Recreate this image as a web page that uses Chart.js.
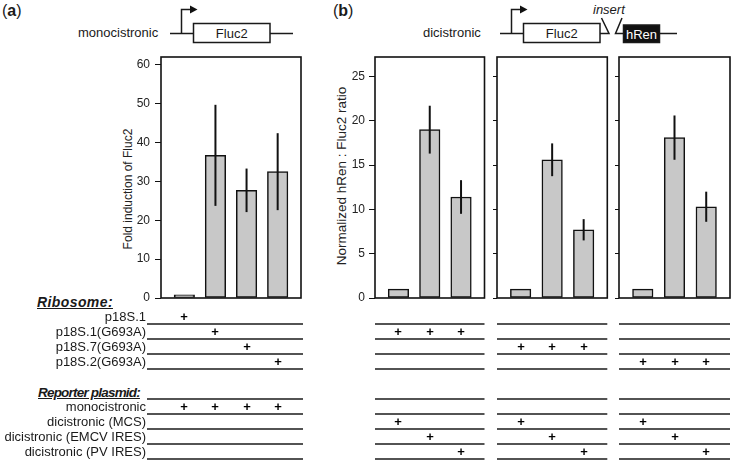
<!DOCTYPE html>
<html>
<head>
<meta charset="utf-8">
<script src="https://cdn.jsdelivr.net/npm/chart.js@4.4.1/dist/chart.umd.min.js"></script>
<style>
  body { margin: 0; background: #fff; }
  #fig { position: relative; width: 733px; height: 462px; overflow: hidden;
         font-family: Arial, "Liberation Sans", sans-serif; color: #1a1a1a; }
  #fig canvas, #fig svg { position: absolute; }
  .txt { position: absolute; white-space: nowrap; font-size: 13px; line-height: 15px; }
  .plus { position: absolute; width: 16px; text-align: center; font-weight: bold; font-size: 13px; line-height: 15px;
          color: #000; will-change: transform; }
  .head { font-weight: bold; font-style: italic; text-decoration: underline; font-size: 14px; }
  .panel { font-size: 16px; line-height: 18px; }
  .ytitle { position: absolute; width: 300px; height: 16px; line-height: 16px; text-align: center;
            white-space: nowrap; transform: rotate(-90deg); color: #222; }
</style>
</head>
<body>
<div id="fig">
  <svg id="art" width="733" height="462" style="left:0;top:0">
    <g stroke="#1a1a1a" stroke-width="1.5" fill="none">
      <line x1="170" y1="33.5" x2="193.5" y2="33.5"/>
      <rect x="193.5" y="23.5" width="76.5" height="19"/>
      <line x1="270" y1="33.5" x2="293" y2="33.5"/>
      <polyline points="181.5,33.5 181.5,9.5 191,9.5"/>
      <line x1="500" y1="33.5" x2="523.5" y2="33.5"/>
      <polyline points="511.5,33.5 511.5,9.5 521,9.5"/>
      <rect x="523.5" y="23.5" width="76.5" height="19"/>
      <polyline points="600,33.5 609,33.5 601.5,18"/>
      <polyline points="622,18 615.5,33.5 623.5,33.5"/>
      <rect x="623.5" y="25" width="36" height="17.5" fill="#111"/>
      <line x1="659.5" y1="33.5" x2="677" y2="33.5"/>
    </g>
    <polygon points="190,5.5 197.5,9.5 190,13.5" fill="#111"/>
    <polygon points="520,5.5 527.5,9.5 520,13.5" fill="#111"/>
    <g id="rules" stroke="#1a1a1a" stroke-width="1.4"></g>
  </svg>
  <div class="txt panel" style="left:2px;top:2px">(<b>a</b>)</div>
  <div class="txt panel" style="left:333px;top:2px">(<b>b</b>)</div>
  <div class="txt" style="left:78px;top:24.7px">monocistronic</div>
  <div class="txt" style="left:193.5px;width:76.5px;text-align:center;top:25.5px">Fluc2</div>
  <div class="txt" style="left:423px;top:24.7px">dicistronic</div>
  <div class="txt" style="left:523.5px;width:76.5px;text-align:center;top:25.5px">Fluc2</div>
  <div class="txt" style="left:623.5px;width:36px;text-align:center;top:26.5px;color:#fff">hRen</div>
  <div class="txt" style="left:593px;top:1.5px;font-style:italic">insert</div>
  <div class="txt head" style="left:37px;top:295px;letter-spacing:0.4px">Ribosome:</div>
  <div class="txt head" style="left:38px;top:385px;font-size:13.5px;letter-spacing:-0.8px">Reporter plasmid:</div>
  <div class="ytitle" style="left:-22px;top:181px;font-size:12px">Fold induction of Fluc2</div>
  <div class="ytitle" style="left:191.7px;top:168px;font-size:13.5px">Normalized hRen : Fluc2 ratio</div>
  <canvas id="chartA" width="210" height="260" style="left:100px;top:50px"></canvas>
  <canvas id="chartB1" width="170" height="260" style="left:320px;top:50px"></canvas>
  <canvas id="chartB2" width="122" height="260" style="left:490px;top:50px"></canvas>
  <canvas id="chartB3" width="121" height="260" style="left:612px;top:50px"></canvas>
</div>
<script>
  const ribosomes = ["p18S.1", "p18S.1(G693A)", "p18S.7(G693A)", "p18S.2(G693A)"];
  const reporters = ["monocistronic", "dicistronic (MCS)", "dicistronic (EMCV IRES)", "dicistronic (PV IRES)"];

  // panel (a): fold induction of Fluc2, one bar per ribosome
  const foldInduction = [0.8, 36.7, 27.7, 32.5];
  const foldInductionErr = [0, 13.0, 5.6, 9.9];
  const ticksA = [0, 10, 20, 30, 40, 50, 60];

  // panel (b): hRen : Fluc2 ratio, one sub-chart per mutant ribosome,
  // bars are MCS / EMCV IRES / PV IRES
  const ratioB1 = [1.0, 19.0, 11.4];
  const ratioB1Err = [0, 2.7, 1.9];
  const ratioB2 = [1.0, 15.6, 7.7];
  const ratioB2Err = [0, 1.85, 1.2];
  const ratioB3 = [1.0, 18.1, 10.3];
  const ratioB3Err = [0, 2.5, 1.7];
  const ticksB = [0, 5, 10, 15, 20, 25];

  const errorBars = {
    id: "errorBars",
    afterDatasetsDraw(chart) {
      const ctx = chart.ctx;
      const y = chart.scales.y;
      chart.data.datasets.forEach((ds, di) => {
        chart.getDatasetMeta(di).data.forEach((bar, i) => {
          const e = ds.errors[i];
          if (!e) return;
          const v = ds.data[i].y;
          ctx.save();
          ctx.strokeStyle = "#111";
          ctx.lineWidth = 2;
          ctx.beginPath();
          ctx.moveTo(bar.x, y.getPixelForValue(v + e));
          ctx.lineTo(bar.x, y.getPixelForValue(v - e));
          ctx.stroke();
          ctx.restore();
        });
      });
    },
  };

  const frame = {
    id: "frame",
    afterDraw(chart) {
      const { ctx, chartArea: a } = chart;
      ctx.save();
      ctx.strokeStyle = "#111";
      ctx.lineWidth = 1.6;
      ctx.strokeRect(a.left, a.top, a.right - a.left, a.bottom - a.top);
      ctx.restore();
    },
  };

  function makeChart(id, values, errors, ticks, cfg) {
    const xMin = 0.25;
    const xMax = values.length + 0.75;
    return new Chart(document.getElementById(id), {
      type: "bar",
      data: {
        datasets: [
          {
            data: values.map((v, i) => ({ x: i + 1, y: v })),
            errors: errors,
            backgroundColor: "#c8c8c8",
            borderColor: "#111",
            borderWidth: 1.5,
            borderSkipped: false,
            barThickness: 20.5,
          },
        ],
      },
      options: {
        responsive: false,
        animation: false,
        layout: { padding: cfg.padding },
        plugins: { legend: { display: false }, tooltip: { enabled: false } },
        scales: {
          x: {
            type: "linear",
            min: xMin,
            max: xMax,
            offset: false,
            bounds: "data",
            display: false,
            afterBuildTicks: (s) => {
              s.min = xMin;
              s.max = xMax;
            },
          },
          y: {
            min: 0,
            max: cfg.yMax,
            afterBuildTicks: (s) => {
              s.ticks = ticks.map((v) => ({ value: v }));
            },
            afterFit: (s) => {
              s.width = cfg.axisWidth;
              s.paddingTop = 0;
              s.paddingBottom = 0;
            },
            border: { display: false },
            grid: { drawOnChartArea: false, tickLength: cfg.tickLength, color: "#111", lineWidth: 1 },
            ticks: {
              display: cfg.labels,
              padding: cfg.tickPad || 4,
              color: "#222",
              font: { size: 12, family: "Arial, 'Liberation Sans', sans-serif" },
            },
          },
        },
      },
      plugins: [errorBars, frame],
    });
  }

  const chartA = makeChart("chartA", foldInduction, foldInductionErr, ticksA, {
    padding: { top: 7, right: 9, bottom: 12, left: 0 },
    yMax: 62, axisWidth: 61, tickLength: 6, tickPad: 5, labels: true,
  });
  const chartB1 = makeChart("chartB1", ratioB1, ratioB1Err, ticksB, {
    padding: { top: 7, right: 5.5, bottom: 12, left: 0 },
    yMax: 27.2, axisWidth: 55, tickLength: 6, tickPad: 4, labels: true,
  });
  const chartB2 = makeChart("chartB2", ratioB2, ratioB2Err, ticksB, {
    padding: { top: 7, right: 4.7, bottom: 12, left: 0 },
    yMax: 27.2, axisWidth: 7, tickLength: 4, labels: false,
  });
  const chartB3 = makeChart("chartB3", ratioB3, ratioB3Err, ticksB, {
    padding: { top: 7, right: 3, bottom: 12, left: 0 },
    yMax: 27.2, axisWidth: 7, tickLength: 4, labels: false,
  });

  // table under the charts
  const fig = document.getElementById("fig");
  const rules = document.getElementById("rules");
  const riboTop = 309.3;
  const repTop = 399;
  const rowH = 15;

  function text(str, cls, style) {
    const d = document.createElement("div");
    d.className = cls;
    d.textContent = str;
    Object.assign(d.style, style);
    fig.appendChild(d);
  }
  function rule(x1, x2, y) {
    const l = document.createElementNS("http://www.w3.org/2000/svg", "line");
    l.setAttribute("x1", x1);
    l.setAttribute("x2", x2);
    l.setAttribute("y1", y);
    l.setAttribute("y2", y);
    rules.appendChild(l);
  }
  function plus(x, rowTop) {
    text("+", "plus", { left: x - 8 + "px", top: rowTop + "px" });
  }

  ribosomes.forEach((r, i) =>
    text(r, "txt", { right: "587px", top: riboTop + rowH * i + "px" }));
  reporters.forEach((r, i) =>
    text(r, "txt", { right: "587px", top: repTop + rowH * i + "px" }));

  // rule spans: panel (a) starts left of the plot frame
  const spans = [
    { chart: chartA, off: 100, x1: 147, x2: 303 },
    { chart: chartB1, off: 320 },
    { chart: chartB2, off: 490 },
    { chart: chartB3, off: 612 },
  ];
  spans.forEach((s) => {
    const a = s.chart.chartArea;
    const x1 = s.x1 || s.off + a.left;
    const x2 = s.x2 || s.off + a.right;
    for (let i = 1; i <= ribosomes.length; i++) rule(x1, x2, riboTop + rowH * i - 0.3);
    for (let i = 0; i <= reporters.length; i++) rule(x1, x2, repTop + rowH * i);
  });

  // panel (a): ribosome i with the monocistronic reporter
  foldInduction.forEach((v, i) => {
    const x = 100 + chartA.scales.x.getPixelForValue(i + 1);
    plus(x, riboTop + rowH * i);
    plus(x, repTop);
  });
  // panel (b): mutant ribosome k+1 with dicistronic reporter j+1
  spans.slice(1).forEach((s, k) => {
    ratioB1.forEach((v, j) => {
      const x = s.off + s.chart.scales.x.getPixelForValue(j + 1);
      plus(x, riboTop + rowH * (k + 1));
      plus(x, repTop + rowH * (j + 1));
    });
  });
</script>
</body>
</html>
